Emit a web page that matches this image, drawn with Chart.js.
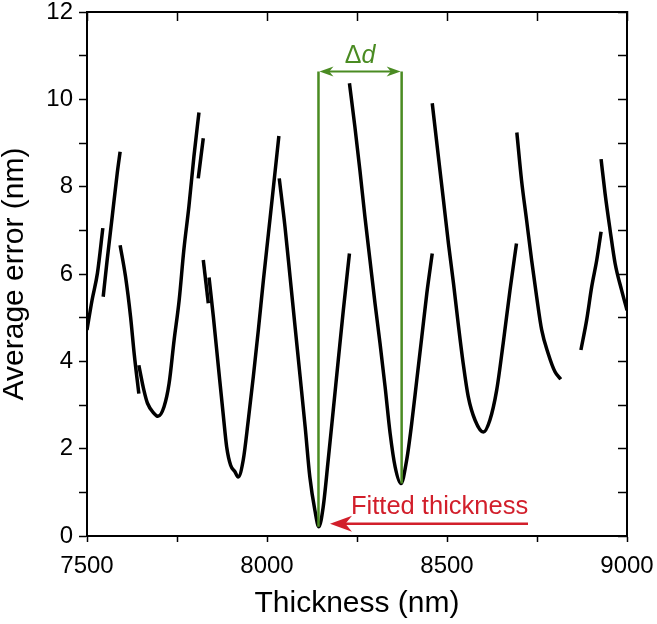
<!DOCTYPE html>
<html>
<head>
<meta charset="utf-8">
<script src="https://cdn.jsdelivr.net/npm/chart.js@4.4.0/dist/chart.umd.min.js"></script>
<style>
  html, body { margin: 0; padding: 0; background: #fff; }
  #wrap { width: 657px; height: 624px; }
</style>
</head>
<body>
<div id="wrap"><canvas id="errorChart" width="657" height="624"></canvas></div>
<script>
// Branches of the average error curve: [thickness (nm), average error (nm)]
const branchA = [[7500, 4.72], [7514, 5.40], [7529, 6.02], [7544, 7.05]];
const branchB = [[7545, 5.48], [7556, 6.32], [7570, 7.31], [7584, 8.31], [7592, 8.80]];
const branchC = [[7592, 6.66], [7607, 5.94], [7621, 5.02], [7631, 4.18], [7644, 3.26]];
const branchD = [[7644, 3.91], [7658, 3.34], [7668, 3.04], [7686, 2.81], [7697, 2.74], [7714, 2.96],
                 [7728, 3.49], [7742, 4.49], [7756, 5.40], [7769, 6.55], [7783, 7.54], [7797, 8.69], [7811, 9.70]];
const branchE = [[7809, 8.19], [7823, 9.11]];
const branchF = [[7823, 6.32], [7837, 5.33]];
const branchG = [[7839, 5.92], [7851, 5.02], [7865, 3.87], [7879, 2.73], [7888, 2.04], [7899, 1.62], [7911, 1.47],
                 [7920, 1.35], [7934, 1.74], [7948, 2.65], [7962, 3.65], [7976, 4.72], [7990, 5.86], [8004, 6.93],
                 [8018, 8.00], [8033, 9.16]];
const branchH = [[8034, 8.19], [8050, 7.08], [8064, 5.94], [8078, 4.79], [8092, 3.65], [8106, 2.50], [8119, 1.35],
                 [8133, 0.59], [8144, 0.21], [8156, 0.66], [8170, 1.74], [8184, 2.88], [8198, 4.03], [8212, 5.17],
                 [8229, 6.47]];
const branchI = [[8229, 10.37], [8244, 9.38], [8258, 8.38], [8272, 7.31], [8286, 6.32], [8300, 5.33], [8314, 4.41],
                 [8328, 3.42], [8342, 2.35], [8356, 1.58], [8372, 1.20], [8388, 1.74], [8402, 2.58], [8416, 3.57],
                 [8430, 4.56], [8444, 5.56], [8459, 6.47]];
const branchJ = [[8459, 9.91], [8476, 8.69], [8490, 7.70], [8504, 6.70], [8518, 5.79], [8531, 4.87], [8545, 3.95],
                 [8559, 3.19], [8578, 2.65], [8601, 2.38], [8619, 2.65], [8638, 3.34], [8656, 4.41], [8675, 5.63],
                 [8693, 6.70]];
const branchK = [[8694, 9.24], [8707, 8.15], [8721, 7.24], [8735, 6.32], [8749, 5.48], [8763, 4.72], [8781, 4.18],
                 [8800, 3.76], [8816, 3.59]];
const branchL = [[8872, 4.26], [8888, 4.95], [8902, 5.71], [8916, 6.32], [8928, 6.97]];
const branchM = [[8928, 8.63], [8939, 7.85], [8953, 7.01], [8967, 6.24], [8985, 5.63], [9000, 5.17]];

const branches = [branchA, branchB, branchC, branchD, branchE, branchF, branchG,
                  branchH, branchI, branchJ, branchK, branchL, branchM];

// Labelled ticks
const xMajor = [7500, 8000, 8500, 9000];
const yMajor = [0, 2, 4, 6, 8, 10, 12];

// Annotations (data coordinates)
const deltaDX = [8143, 8374];
const deltaDBottom = [0.21, 1.2];
const deltaDTop = 10.64;
const fittedArrowX = [8725, 8175];
const fittedArrowY = 0.28;

const FONT = 'Liberation Sans, Arial, sans-serif';
const GREEN = '#4a8b22';
const RED = '#d21f2b';

function arrowHead(ctx, tipX, tipY, dir, len, half, color) {
    ctx.fillStyle = color;
    ctx.beginPath();
    ctx.moveTo(tipX, tipY);
    ctx.lineTo(tipX + dir * len, tipY - half);
    ctx.lineTo(tipX + dir * len * 0.7, tipY);
    ctx.lineTo(tipX + dir * len, tipY + half);
    ctx.closePath();
    ctx.fill();
}

// Δd marker and "Fitted thickness" arrow
const annotations = {
    id: 'annotations',
    afterDatasetsDraw(chart) {
        const {ctx, scales: {x, y}} = chart;
        ctx.save();

        const xl = x.getPixelForValue(deltaDX[0]);
        const xr = x.getPixelForValue(deltaDX[1]);
        const yt = y.getPixelForValue(deltaDTop);
        ctx.strokeStyle = GREEN;
        ctx.lineWidth = 2.5;
        ctx.beginPath();
        ctx.moveTo(xl, y.getPixelForValue(deltaDBottom[0]));
        ctx.lineTo(xl, yt);
        ctx.moveTo(xr, y.getPixelForValue(deltaDBottom[1]));
        ctx.lineTo(xr, yt);
        ctx.stroke();
        ctx.lineWidth = 2;
        ctx.beginPath();
        ctx.moveTo(xl + 8, yt);
        ctx.lineTo(xr - 8, yt);
        ctx.stroke();
        arrowHead(ctx, xl + 1, yt, 1, 14, 5, GREEN);
        arrowHead(ctx, xr - 1, yt, -1, 14, 5, GREEN);

        // Δd label
        const size = 25;
        ctx.fillStyle = GREEN;
        ctx.textBaseline = 'alphabetic';
        ctx.font = `${size}px ${FONT}`;
        const wDelta = ctx.measureText('Δ').width;
        ctx.font = `italic ${size}px ${FONT}`;
        const wD = ctx.measureText('d').width;
        const startX = (xl + xr) / 2 - (wDelta + wD) / 2;
        const baseY = yt - 8;
        ctx.font = `${size}px ${FONT}`;
        ctx.fillText('Δ', startX, baseY);
        ctx.font = `italic ${size}px ${FONT}`;
        ctx.fillText('d', startX + wDelta, baseY);

        // Fitted thickness arrow
        const ax0 = x.getPixelForValue(fittedArrowX[0]);
        const ax1 = x.getPixelForValue(fittedArrowX[1]);
        const ay = y.getPixelForValue(fittedArrowY);
        ctx.strokeStyle = RED;
        ctx.lineWidth = 2.5;
        ctx.beginPath();
        ctx.moveTo(ax0, ay);
        ctx.lineTo(ax1 + 12, ay);
        ctx.stroke();
        arrowHead(ctx, ax1, ay, 1, 22, 8, RED);

        ctx.fillStyle = RED;
        ctx.font = `25.5px ${FONT}`;
        ctx.textAlign = 'left';
        ctx.fillText('Fitted thickness', ax1 + 21, ay - 10);

        ctx.restore();
    }
};

const tickFont = { family: FONT, size: 24, lineHeight: 1 };
const titleFont = { family: FONT, size: 30, lineHeight: 1 };

// fixed box sizes so the plot area sits where the reference has it
function fixHeight(h) {
    return s => { s.height = h; s.paddingLeft = 0; s.paddingRight = 0; };
}
function fixWidth(w) {
    return s => { s.width = w; s.paddingTop = 0; s.paddingBottom = 0; };
}

const ctx = document.getElementById('errorChart').getContext('2d');
const errorChart = new Chart(ctx, {
    type: 'scatter',
    data: {
        datasets: branches.map(b => ({
            data: b.map(p => ({ x: p[0], y: p[1] })),
            showLine: true,
            borderColor: '#000',
            borderWidth: 3.5,
            pointRadius: 0,
            pointHoverRadius: 0,
            cubicInterpolationMode: 'monotone'
        }))
    },
    options: {
        responsive: false,
        animation: false,
        devicePixelRatio: 1,
        layout: { padding: 0 },
        plugins: {
            legend: { display: false },
            tooltip: { enabled: false }
        },
        scales: {
            x: {
                type: 'linear', position: 'bottom', min: 7500, max: 9000,
                ticks: {
                    stepSize: 250, autoSkip: false, maxRotation: 0, padding: 12,
                    color: '#000', font: tickFont,
                    callback: v => xMajor.includes(v) ? String(v) : ''
                },
                grid: { drawOnChartArea: false, tickLength: 6, tickWidth: 1.5, tickColor: '#000' },
                border: { color: '#000', width: 2 },
                title: { display: true, text: 'Thickness (nm)', color: '#000', font: titleFont, padding: { top: 0, bottom: 5 } },
                afterFit: fixHeight(88)
            },
            xTop: {
                type: 'linear', position: 'top', min: 7500, max: 9000,
                ticks: { stepSize: 250, display: false },
                grid: { drawOnChartArea: false, tickLength: -9, tickWidth: 1.5, tickColor: '#000' },
                border: { color: '#000', width: 2 },
                afterFit: fixHeight(12)
            },
            y: {
                type: 'linear', position: 'left', min: 0, max: 12,
                ticks: {
                    stepSize: 1, autoSkip: false, padding: 6,
                    color: '#000', font: tickFont,
                    callback: v => yMajor.includes(v) ? String(v) : ''
                },
                grid: { drawOnChartArea: false, tickLength: 8, tickWidth: 1.5, tickColor: '#000' },
                border: { color: '#000', width: 2 },
                title: { display: true, text: 'Average error (nm)', color: '#000', font: titleFont, padding: { top: 0, bottom: 0 } },
                afterFit: fixWidth(87)
            },
            yRight: {
                type: 'linear', position: 'right', min: 0, max: 12,
                ticks: { stepSize: 1, display: false },
                grid: { drawOnChartArea: false, tickLength: -9, tickWidth: 1.5, tickColor: '#000' },
                border: { color: '#000', width: 2 },
                afterFit: fixWidth(30)
            }
        }
    },
    plugins: [annotations]
});
</script>
</body>
</html>
